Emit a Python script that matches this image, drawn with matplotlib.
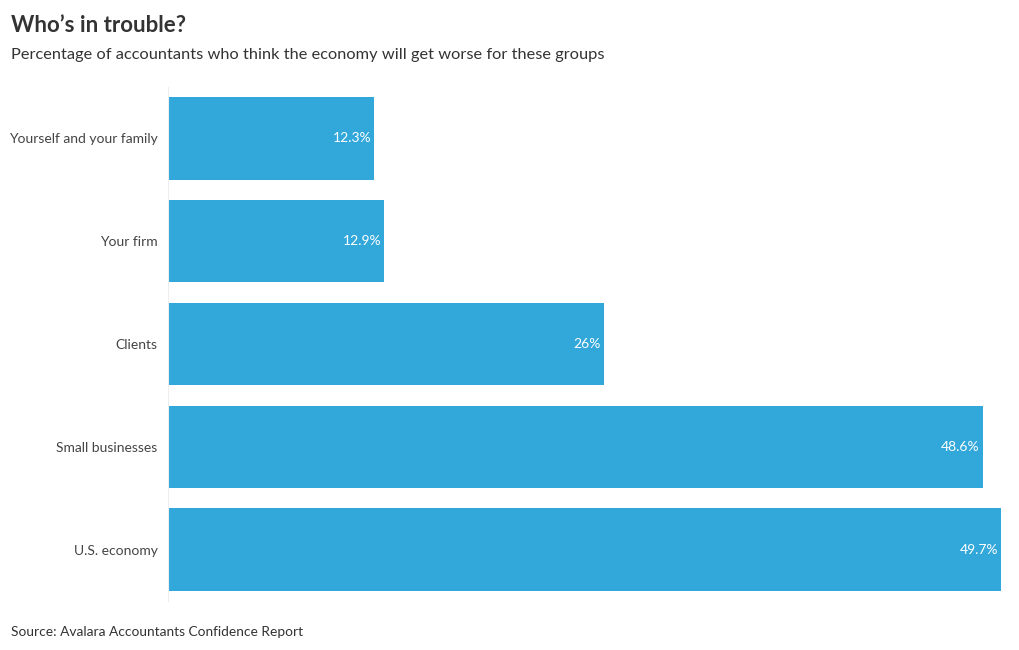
import matplotlib
matplotlib.use("Agg")
import matplotlib.pyplot as plt

# ── Data ──────────────────────────────────────────────────────────────────────
categories = ["Yourself and your family", "Your firm", "Clients",
              "Small businesses", "U.S. economy"]
values     = [12.3, 12.9, 26, 48.6, 49.7]
value_text = ["12.3%", "12.9%", "26%", "48.6%", "49.7%"]

TITLE    = "Who\u2019s in trouble?"
SUBTITLE = "Percentage of accountants who think the economy will get worse for these groups"
SOURCE   = "Source: Avalara Accountants Confidence Report"

BAR_COLOR  = "#31a7da"
TEXT_COLOR = "#444444"

plt.rcParams["font.family"] = ["Lato", "DejaVu Sans"]

W, H = 1020, 650
fig = plt.figure(figsize=(W / 100, H / 100), dpi=100, facecolor="white")

# axes placed in pixel terms: x 169..1001, y 87..601
left, right, top, bottom = 168, 1001, 87, 601
ax = fig.add_axes([left / W, 1 - bottom / H, (right - left) / W, (bottom - top) / H])

pos = list(range(len(categories)))
ax.barh(pos, values, height=0.8, color=BAR_COLOR)
ax.set_xlim(0, max(values))
ax.set_ylim(len(categories) - 0.5, -0.5)

for p, v, t in zip(pos, values, value_text):
    ax.annotate(t, (v, p), xytext=(-2, 0), textcoords="offset points",
                ha="right", va="center", color="white", fontsize=10)

ax.set_yticks(pos)
ax.set_yticklabels(categories, fontsize=10, color=TEXT_COLOR)
ax.tick_params(axis="y", length=0, pad=7.5)
ax.set_xticks([])
for s in ["top", "right", "bottom"]:
    ax.spines[s].set_visible(False)
ax.spines["left"].set_color("#eeeeee")
ax.spines["left"].set_linewidth(0.8)

fig.text(11 / W, 1 - 32 / H, TITLE, fontsize=16, fontweight="bold",
         color="#333333", ha="left", va="baseline")
fig.text(11 / W, 1 - 59 / H, SUBTITLE, fontsize=11.8,
         color="#333333", ha="left", va="baseline")
fig.text(11 / W, 1 - 636 / H, SOURCE, fontsize=9.9,
         color="#333333", ha="left", va="baseline")

fig.savefig("out.png", dpi=100, facecolor="white")
